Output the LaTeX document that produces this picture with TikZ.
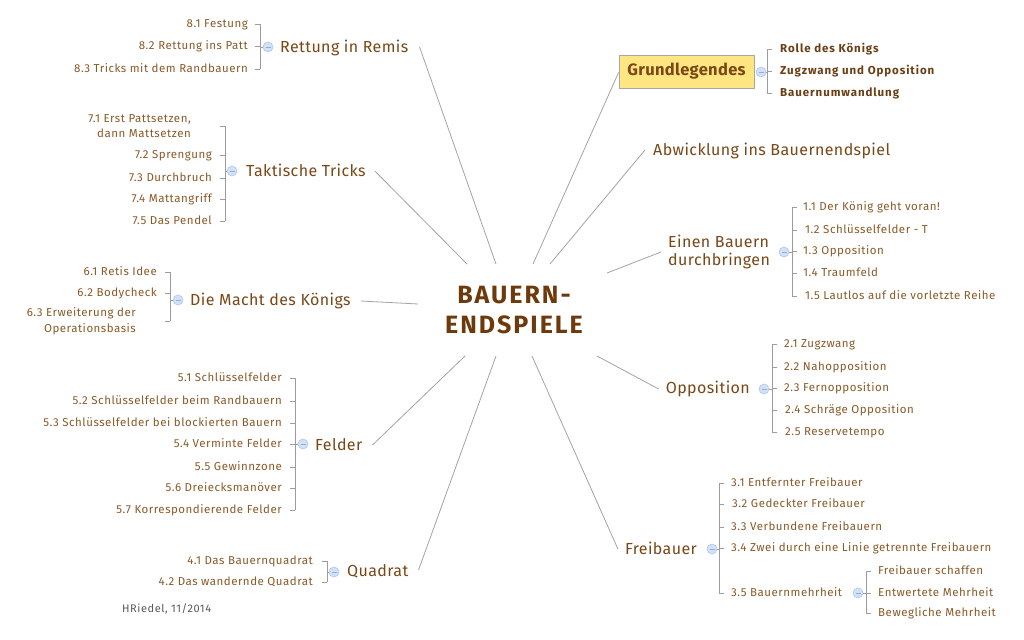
\documentclass[tikz,border=0pt]{standalone}
\usepackage{fontspec}
\setmainfont{Fira Sans}
\definecolor{topicc}{HTML}{7A4716}
\definecolor{subc}{HTML}{8A5A28}
\definecolor{boldc}{HTML}{6B3E14}
\definecolor{rootc}{HTML}{6E3A0C}
\definecolor{linec}{HTML}{A4A4A4}
\definecolor{brc}{HTML}{9C9C9C}
\definecolor{circf}{HTML}{D3E1F7}
\definecolor{circd}{HTML}{AEC6EE}
\definecolor{circm}{HTML}{8FAEDD}
\definecolor{boxf}{HTML}{FFE680}
\definecolor{boxd}{HTML}{A8A8A8}
\definecolor{authc}{HTML}{5A5A5A}
\newfontfamily\topicfont[LetterSpace=2.5]{Fira Sans}
\newfontfamily\subfont[LetterSpace=4.5]{Fira Sans}
\newfontfamily\subbfont[LetterSpace=8]{Fira Sans Bold}
\newfontfamily\rootfont[LetterSpace=8]{Fira Sans Bold}
\newfontfamily\gfont[LetterSpace=2]{Fira Sans Bold}
\newfontfamily\authfont[LetterSpace=5]{Fira Sans}
\tikzset{
  topic/.style={font=\topicfont\fontsize{16}{18}\selectfont, text=topicc, inner sep=0pt, text height=11pt, text depth=0pt},
  topicm/.style={font=\topicfont\fontsize{16}{18}\selectfont, text=topicc, inner sep=0pt, align=left},
  sub/.style={font=\subfont\fontsize{11.5}{13}\selectfont, text=subc, inner sep=0pt, text height=7.9pt, text depth=0pt},
  subm/.style={font=\subfont\fontsize{11.5}{15.5}\selectfont, text=subc, inner sep=0pt, align=right},
  subb/.style={font=\subbfont\fontsize{11.5}{13}\selectfont, text=boldc, inner sep=0pt, text height=7.9pt, text depth=0pt},
  conn/.style={draw=linec, line width=0.8pt},
  br/.style={draw=brc, line width=0.9pt},
  tog/.style={circle, draw=circd, fill=circf, minimum size=10pt, inner sep=0pt, line width=0.6pt,
    path picture={\draw[circm, line width=0.6pt] ([xshift=-2.5pt]path picture bounding box.center) -- ([xshift=2.5pt]path picture bounding box.center);}},
}
\begin{document}
\begin{tikzpicture}[x=1pt,y=-1pt]
\useasboundingbox (0,0) rectangle (1024,639);
\fill[white] (0,0) rectangle (1024,639);

% root
\node[font=\rootfont\fontsize{25}{30}\selectfont, text=rootc, align=center, inner sep=0pt] (root) at (514,310) {BAUERN-\\ENDSPIELE};

% ---------- group 8: Rettung in Remis
\node[topic, anchor=west] (t8) at (280,47) {Rettung in Remis};
\node[tog] (o8) at (268,47) {};
\node[sub, anchor=east] (c81) at (248,24) {8.1 Festung};
\node[sub, anchor=east] (c82) at (248,46) {8.2 Rettung ins Patt};
\node[sub, anchor=east] (c83) at (248,69) {8.3 Tricks mit dem Randbauern};
\coordinate (b8) at (260,47);
\draw[br] (b8 |- c81) -- (b8 |- c83);
\foreach \c in {c81,c82,c83} \draw[br] (b8 |- \c) -- ++(-5,0);
\draw[br] (b8) -- (o8.west);

% ---------- group 7: Taktische Tricks
\node[topic, anchor=west] (t7) at (246,171) {Taktische Tricks};
\node[tog] (o7) at (232,171) {};
\node[subm, anchor=east] (c71) at (191,126) {7.1 Erst Pattsetzen,\\dann Mattsetzen};
\node[sub, anchor=east] (c72) at (212,155) {7.2 Sprengung};
\node[sub, anchor=east] (c73) at (212,178) {7.3 Durchbruch};
\node[sub, anchor=east] (c74) at (212,199) {7.4 Mattangriff};
\node[sub, anchor=east] (c75) at (212,221) {7.5 Das Pendel};
\coordinate (b7) at (225,171);
\draw[br] (b7 |- c71) -- (b7 |- c75);
\foreach \c in {c71,c72,c73,c74,c75} \draw[br] (b7 |- \c) -- ++(-5,0);
\draw[br] (b7) -- (o7.west);

% ---------- group 6: Die Macht des Königs
\node[topic, anchor=west] (t6) at (190,300) {Die Macht des Königs};
\node[tog] (o6) at (178,300) {};
\node[sub, anchor=east] (c61) at (157,272) {6.1 Retis Idee};
\node[sub, anchor=east] (c62) at (157,293) {6.2 Bodycheck};
\node[subm, anchor=east] (c63) at (136,321) {6.3 Erweiterung der\\Operationsbasis};
\coordinate (b6) at (170,300);
\draw[br] (b6 |- c61) -- (b6 |- c63);
\foreach \c in {c61,c62,c63} \draw[br] (b6 |- \c) -- ++(-5,0);
\draw[br] (b6) -- (o6.west);

% ---------- group 5: Felder
\node[topic, anchor=west] (t5) at (315,445) {Felder};
\node[tog] (o5) at (303,444) {};
\node[sub, anchor=east] (c51) at (282,378) {5.1 Schlüsselfelder};
\node[sub, anchor=east] (c52) at (282,401) {5.2 Schlüsselfelder beim Randbauern};
\node[sub, anchor=east] (c53) at (282,423) {5.3 Schlüsselfelder bei blockierten Bauern};
\node[sub, anchor=east] (c54) at (282,444) {5.4 Verminte Felder};
\node[sub, anchor=east] (c55) at (282,467) {5.5 Gewinnzone};
\node[sub, anchor=east] (c56) at (282,488) {5.6 Dreiecksmanöver};
\node[sub, anchor=east] (c57) at (282,510) {5.7 Korrespondierende Felder};
\coordinate (b5) at (295,444);
\draw[br] (b5 |- c51) -- (b5 |- c57);
\foreach \c in {c51,c52,c53,c54,c55,c56,c57} \draw[br] (b5 |- \c) -- ++(-5,0);
\draw[br] (b5) -- (o5.west);

% ---------- group 4: Quadrat
\node[topic, anchor=west] (t4) at (347,571) {Quadrat};
\node[tog] (o4) at (334,572) {};
\node[sub, anchor=east] (c41) at (313,561) {4.1 Das Bauernquadrat};
\node[sub, anchor=east] (c42) at (313,582) {4.2 Das wandernde Quadrat};
\coordinate (b4) at (327,572);
\draw[br] (b4 |- c41) -- (b4 |- c42);
\foreach \c in {c41,c42} \draw[br] (b4 |- \c) -- ++(-5,0);
\draw[br] (b4) -- (o4.west);

% author
\node[font=\authfont\fontsize{11}{12}\selectfont, text=authc, inner sep=0pt, anchor=west, text height=7.5pt, text depth=0pt] (auth) at (122,609) {HRiedel, 11/2014};

% ---------- Grundlegendes
\node[draw=boxd, fill=boxf, line width=0.8pt, minimum width=135pt, minimum height=33pt, inner sep=0pt,
  font=\gfont\fontsize{16.5}{18}\selectfont, text=topicc] (tG) at (686.5,71.5) {Grundlegendes};
\node[tog] (oG) at (761,72) {};
\node[subb, anchor=west] (cG1) at (780,49) {Rolle des Königs};
\node[subb, anchor=west] (cG2) at (780,71) {Zugzwang und Opposition};
\node[subb, anchor=west] (cG3) at (780,93) {Bauernumwandlung};
\coordinate (bG) at (767,72);
\draw[br] (bG |- cG1) -- (bG |- cG3);
\foreach \c in {cG1,cG2,cG3} \draw[br] (bG |- \c) -- ++(5,0);
\draw[br] (oG.east) -- (bG);

% ---------- Abwicklung
\node[topic, anchor=west] (tA) at (653,150) {Abwicklung ins Bauernendspiel};

% ---------- group 1: Einen Bauern durchbringen
\node[topicm, anchor=west] (t1) at (668,252) {Einen Bauern\\durchbringen};
\node[tog] (o1) at (784,252) {};
\node[sub, anchor=west] (c11) at (803,207) {1.1 Der König geht voran!};
\node[sub, anchor=west] (c12) at (805,230) {1.2 Schlüsselfelder - T};
\node[sub, anchor=west] (c13) at (803,251) {1.3 Opposition};
\node[sub, anchor=west] (c14) at (803,273) {1.4 Traumfeld};
\node[sub, anchor=west] (c15) at (805,296) {1.5 Lautlos auf die vorletzte Reihe};
\coordinate (b1) at (792,252);
\draw[br] (b1 |- c11) -- (b1 |- c15);
\foreach \c in {c11,c12,c13,c14,c15} \draw[br] (b1 |- \c) -- ++(5,0);
\draw[br] (o1.east) -- (b1);

% ---------- group 2: Opposition
\node[topic, anchor=east] (t2) at (750,388) {Opposition};
\node[tog] (o2) at (764,389) {};
\node[sub, anchor=west] (c21) at (784,344) {2.1 Zugzwang};
\node[sub, anchor=west] (c22) at (784,367) {2.2 Nahopposition};
\node[sub, anchor=west] (c23) at (784,388) {2.3 Fernopposition};
\node[sub, anchor=west] (c24) at (785,410) {2.4 Schräge Opposition};
\node[sub, anchor=west] (c25) at (785,432) {2.5 Reservetempo};
\coordinate (b2) at (772,389);
\draw[br] (b2 |- c21) -- (b2 |- c25);
\foreach \c in {c21,c22,c23,c24,c25} \draw[br] (b2 |- \c) -- ++(5,0);
\draw[br] (o2.east) -- (b2);

% ---------- group 3: Freibauer
\node[topic, anchor=east] (t3) at (697,549) {Freibauer};
\node[tog] (o3) at (712,549) {};
\node[sub, anchor=west] (c31) at (731,483) {3.1 Entfernter Freibauer};
\node[sub, anchor=west] (c32) at (732,504) {3.2 Gedeckter Freibauer};
\node[sub, anchor=west] (c33) at (731,527) {3.3 Verbundene Freibauern};
\node[sub, anchor=west] (c34) at (731,548) {3.4 Zwei durch eine Linie getrennte Freibauern};
\node[sub, anchor=west] (c35) at (731,593) {3.5 Bauernmehrheit};
\coordinate (b3) at (719,549);
\draw[br] (b3 |- c31) -- (b3 |- c35);
\foreach \c in {c31,c32,c33,c34,c35} \draw[br] (b3 |- \c) -- ++(5,0);
\draw[br] (o3.east) -- (b3);
% sub-group 3.5
\node[tog] (o35) at (858,593) {};
\node[sub, anchor=west] (c351) at (878,571) {Freibauer schaffen};
\node[sub, anchor=west] (c352) at (878,593) {Entwertete Mehrheit};
\node[sub, anchor=west] (c353) at (878,613) {Bewegliche Mehrheit};
\coordinate (b35) at (866,593);
\draw[br] (b35 |- c351) -- (b35 |- c353);
\foreach \c in {c351,c352,c353} \draw[br] (b35 |- \c) -- ++(5,0);
\draw[br] (o35.east) -- (b35);

% ---------- main connectors
\coordinate (e8) at (496,264);
\coordinate (e7) at (467,264);
\coordinate (e6) at (418,304);
\coordinate (e5) at (465,356);
\coordinate (e4) at (496,356);
\coordinate (eG) at (533,264);
\coordinate (eA) at (550,264);
\coordinate (e1) at (607,273);
\coordinate (e2) at (597,356);
\coordinate (e3) at (532,356);
\draw[conn] ([xshift=11pt]t8.east) -- (e8);
\draw[conn] ([xshift=9pt]t7.east) -- (e7);
\draw[conn] ([xshift=10pt,yshift=-1pt]t6.east) -- (e6);
\draw[conn] ([xshift=10pt]t5.east) -- (e5);
\draw[conn] ([xshift=10pt,yshift=1pt]t4.east) -- (e4);
\draw[conn] ([yshift=-1pt]tG.west) -- (eG);
\draw[conn] ([xshift=-8pt]tA.west) -- (eA);
\draw[conn] ([xshift=-7pt]t1.west) -- (e1);
\draw[conn] ([xshift=-7pt,yshift=-1pt]t2.west) -- (e2);
\draw[conn] ([xshift=-7pt]t3.west) -- (e3);
\end{tikzpicture}
\end{document}
